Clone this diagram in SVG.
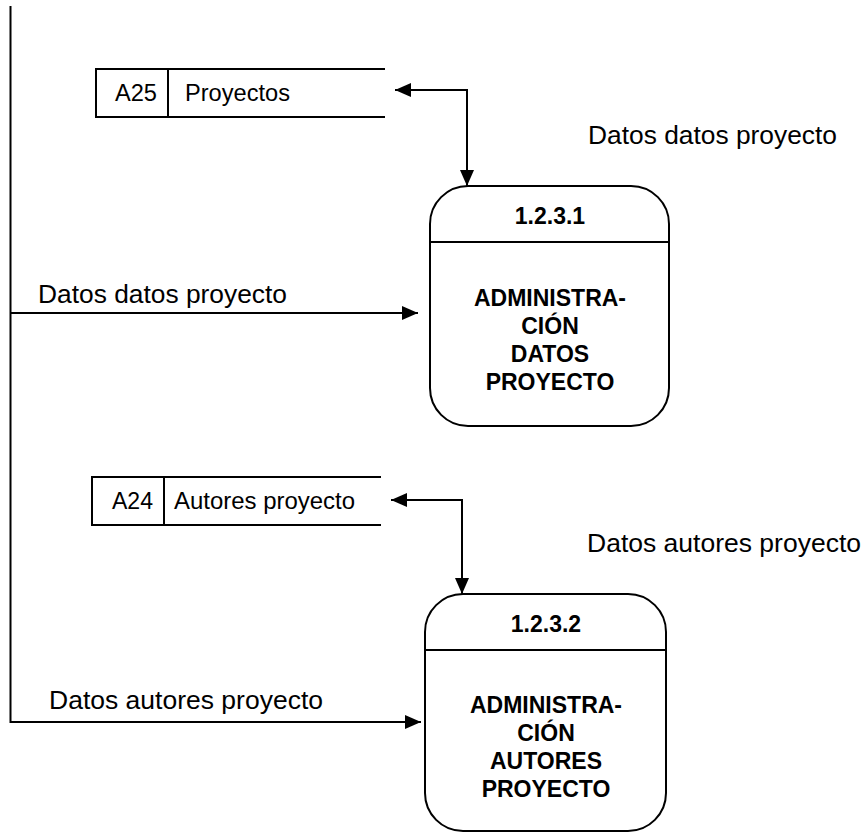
<svg xmlns="http://www.w3.org/2000/svg" width="867" height="833" viewBox="0 0 867 833">
<style>
.ln{fill:none;stroke:#000;stroke-width:2}
.box{fill:#fff;stroke:#000;stroke-width:2}
.t{font-family:"Liberation Sans",Arial,sans-serif;fill:#000}
.lbl{font-size:25px}
.st{font-size:23px}
.b{font-size:23px;font-weight:bold;text-anchor:middle}
</style>
<defs>
<marker id="ah" markerUnits="userSpaceOnUse" markerWidth="18" markerHeight="16" refX="16" refY="7" orient="auto-start-reverse">
<path d="M0,0 L16,7 L0,14 z" fill="#000"/>
</marker>
</defs>
<rect width="867" height="833" fill="#fff"/>
<g id="connectors">
<line class="ln" x1="10.5" y1="6" x2="10.5" y2="723"/>
<path class="ln" d="M395,90 H467 V186" marker-start="url(#ah)" marker-end="url(#ah)"/>
<path class="ln" d="M391,500 H462 V594" marker-start="url(#ah)" marker-end="url(#ah)"/>
<line class="ln" x1="10.5" y1="313" x2="418" y2="313" marker-end="url(#ah)"/>
<line class="ln" x1="10.5" y1="722" x2="421" y2="722" marker-end="url(#ah)"/>
<text class="t lbl" x="38" y="303" textLength="249" lengthAdjust="spacingAndGlyphs">Datos datos proyecto</text>
<text class="t lbl" x="588" y="144" textLength="249" lengthAdjust="spacingAndGlyphs">Datos datos proyecto</text>
<text class="t lbl" x="49" y="709" textLength="274" lengthAdjust="spacingAndGlyphs">Datos autores proyecto</text>
<text class="t lbl" x="587" y="552" textLength="274" lengthAdjust="spacingAndGlyphs">Datos autores proyecto</text>
</g>
<g id="A25">
<path class="ln" d="M385,69 H96 V117 H385 M168,69 V117"/>
<text class="t st" x="115" y="101" textLength="42" lengthAdjust="spacingAndGlyphs">A25</text>
<text class="t st" x="185" y="101" textLength="105" lengthAdjust="spacingAndGlyphs">Proyectos</text>
</g>
<g id="A24">
<path class="ln" d="M381,477 H92 V525 H381 M164,477 V525"/>
<text class="t st" x="112" y="509" textLength="41" lengthAdjust="spacingAndGlyphs">A24</text>
<text class="t st" x="174" y="509" textLength="181" lengthAdjust="spacingAndGlyphs">Autores proyecto</text>
</g>
<g id="p1231">
<rect class="box" x="430" y="186" width="239" height="240" rx="38" ry="38"/>
<line class="ln" x1="430" y1="242" x2="669" y2="242"/>
<text class="t b" x="550" y="224">1.2.3.1</text>
<text class="t b" x="550" y="306">ADMINISTRA-</text>
<text class="t b" x="550" y="334">CIÓN</text>
<text class="t b" x="550" y="362">DATOS</text>
<text class="t b" x="550" y="390">PROYECTO</text>
</g>
<g id="p1232">
<rect class="box" x="425" y="594" width="241" height="237" rx="38" ry="38"/>
<line class="ln" x1="425" y1="650" x2="666" y2="650"/>
<text class="t b" x="546" y="632">1.2.3.2</text>
<text class="t b" x="546" y="713">ADMINISTRA-</text>
<text class="t b" x="546" y="741">CIÓN</text>
<text class="t b" x="546" y="769">AUTORES</text>
<text class="t b" x="546" y="797">PROYECTO</text>
</g>
</svg>
